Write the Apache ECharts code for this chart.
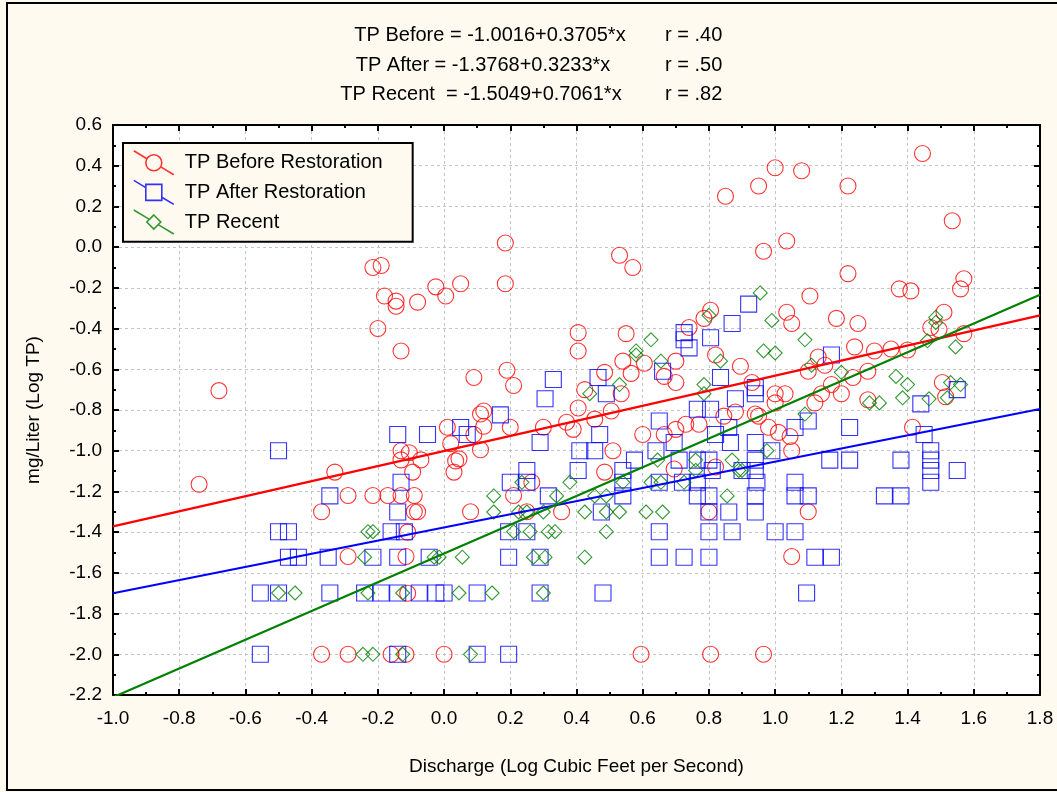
<!DOCTYPE html>
<html>
<head>
<meta charset="utf-8">
<script src="https://cdn.jsdelivr.net/npm/echarts@6/dist/echarts.min.js"></script>
<style>
html,body{margin:0;padding:0;background:#fffaf0;}
#chart{width:1057px;height:792px;}
</style>
</head>
<body>
<div id="chart"></div>
<script>
// ---- Data ----
var seriesNames = ['TP Before Restoration', 'TP After Restoration', 'TP Recent'];

var xTicks = { min: -1.0, max: 1.8, step: 0.2 };
var yTicks = { min: -2.2, max: 0.6, step: 0.2 };

var equations = [
  'TP Before = -1.0016+0.3705*x',
  'TP After = -1.3768+0.3233*x',
  'TP Recent  = -1.5049+0.7061*x'
];
var rValues = ['r = .40', 'r = .50', 'r = .82'];

var beforeLine = [[-1.0, -1.372], [1.8, -0.335]];
var afterLine = [[-1.0, -1.700], [1.8, -0.795]];
var recentLine = [[-1.0, -2.211], [1.8, -0.234]];

var beforePts = [
[1.0,0.39],[1.08,0.375],[0.95,0.30],[1.22,0.30],[1.445,0.46],[1.535,0.13],[0.965,-0.02],[1.035,0.03],[1.22,-0.13],[1.105,-0.24],[1.375,-0.205],[1.41,-0.215],[1.57,-0.155],[1.56,-0.205],[1.035,-0.32],[1.05,-0.375],[1.185,-0.35],[1.25,-0.375],[1.51,-0.32],[1.47,-0.395],[1.495,-0.405],[1.57,-0.425],[1.24,-0.49],[1.30,-0.51],[1.35,-0.50],[1.40,-0.505],[1.13,-0.54],[1.10,-0.61],[1.15,-0.58],[1.28,-0.61],[1.235,-0.64],[1.17,-0.675],[1.20,-0.72],[1.14,-0.72],[1.0,-0.72],[1.03,-0.72],[1.0,-0.765],[1.12,-0.765],[0.895,-0.585],[0.93,-0.665],[1.505,-0.665],[1.515,-0.735],
[-0.215,-0.10],[-0.19,-0.09],[-0.18,-0.24],[-0.145,-0.265],[-0.145,-0.29],[-0.08,-0.27],[-0.025,-0.195],[0.005,-0.24],[-0.20,-0.40],[-0.13,-0.51],[-0.68,-0.705],[0.05,-0.18],
[0.185,0.02],[0.185,-0.18],[0.53,-0.04],[0.57,-0.10],[0.85,0.25],[0.405,-0.42],[0.405,-0.51],[0.55,-0.425],[0.09,-0.64],[0.19,-0.605],[0.21,-0.68],[0.485,-0.615],[0.54,-0.56],[0.565,-0.62],[0.605,-0.57],[0.425,-0.70],[0.535,-0.72],[0.70,-0.56],[0.665,-0.635],[0.70,-0.665],[0.74,-0.395],[0.785,-0.35],[0.805,-0.31],[0.82,-0.53],[0.405,-0.79],[0.505,-0.805],[0.12,-0.805],
[-0.74,-1.165],[-0.33,-1.105],[0.01,-0.885],[0.02,-0.965],[-0.13,-1.0],[-0.105,-1.01],[-0.13,-1.045],[-0.07,-1.045],[-0.095,-1.105],[0.035,-1.05],[0.03,-1.105],[-0.29,-1.22],[-0.215,-1.22],[-0.17,-1.22],[-0.13,-1.22],[-0.09,-1.22],[-0.37,-1.30],[-0.09,-1.30],[-0.08,-1.30],[-0.11,-1.40],[-0.29,-1.52],[-0.115,-1.52],[-0.37,-2.0],[-0.29,-2.0],[-0.16,-2.0],[-0.115,-2.0],[0.0,-2.0],[-0.11,-1.70],
[0.595,-2.0],[0.805,-2.0],[0.965,-2.0],[0.11,-0.82],[0.12,-0.88],[0.09,-0.92],[0.11,-0.995],[0.045,-1.04],[0.20,-0.885],[0.30,-0.885],[0.37,-0.86],[0.39,-0.895],[0.455,-0.845],[0.51,-1.0],[0.485,-1.105],[0.265,-1.155],[0.21,-1.22],[0.25,-1.30],[0.355,-1.30],[0.08,-1.30],[0.60,-0.92],[0.665,-0.92],[0.70,-0.895],[0.73,-0.87],[0.77,-0.87],[0.845,-0.83],[0.88,-0.81],[0.94,-0.82],[0.695,-1.09],[0.82,-1.08],[0.80,-1.30],
[0.95,-0.83],[0.98,-0.885],[1.01,-0.91],[1.045,-0.93],[1.05,-1.0],[1.28,-0.75],[1.415,-0.885],[1.10,-1.30],[1.05,-1.52]
];

var afterPts = [
[-0.50,-1.0],[-0.14,-0.92],[-0.05,-0.92],[-0.13,-1.155],[-0.345,-1.222],[-0.14,-1.301],[-0.50,-1.398],[-0.47,-1.398],[-0.16,-1.398],[-0.12,-1.398],[-0.47,-1.523],[-0.44,-1.523],[-0.35,-1.523],[-0.215,-1.523],[-0.14,-1.523],[-0.045,-1.523],[-0.555,-1.699],[-0.50,-1.699],[-0.345,-1.699],[-0.24,-1.699],[-0.19,-1.699],[-0.14,-1.699],[-0.075,-1.699],[-0.025,-1.699],[0.05,-0.886],[-0.555,-2.0],[-0.14,-2.0],
[0.33,-0.65],[0.49,-0.72],[0.305,-0.745],[0.17,-0.824],[0.07,-0.92],[0.47,-0.92],[0.29,-0.96],[0.41,-1.0],[0.455,-1.0],[0.25,-1.097],[0.405,-1.097],[0.54,-1.097],[0.20,-1.155],[0.25,-1.155],[0.315,-1.222],[0.54,-1.155],[0.54,-1.222],[0.475,-1.301],[0.195,-1.398],[0.25,-1.398],[0.195,-1.523],[0.29,-1.523],[0.0,-1.699],[0.10,-1.699],[0.29,-1.699],[0.48,-1.699],[0.10,-2.0],[0.195,-2.0],
[0.65,-0.854],[0.695,-0.96],[0.64,-1.0],[0.575,-1.046],[0.71,-1.046],[0.765,-0.796],[0.805,-0.796],[0.86,-0.886],[0.82,-0.92],[0.865,-0.96],[0.88,-0.745],[0.94,-0.72],[0.94,-0.96],[0.94,-1.046],[0.765,-1.046],[0.80,-1.046],[0.81,-1.097],[0.65,-1.155],[0.72,-1.155],[0.765,-1.155],[0.765,-1.222],[0.80,-1.222],[0.94,-1.097],[0.94,-1.222],[0.94,-1.301],[0.80,-1.301],[0.86,-1.301],[0.65,-1.398],[0.80,-1.398],[0.87,-1.398],[0.65,-1.523],[0.725,-1.523],[0.80,-1.523],
[0.465,-0.64],[0.725,-0.42],[0.725,-0.455],[0.74,-0.495],[0.805,-0.445],[0.87,-0.375],[0.92,-0.28],[0.66,-0.61],[0.835,-0.64],[0.94,-0.69],
[1.17,-0.53],[1.44,-0.77],[1.55,-0.70],
[1.06,-0.886],[1.10,-0.854],[1.225,-0.886],[0.945,-1.155],[0.99,-1.0],[1.165,-1.046],[1.225,-1.046],[1.38,-1.046],[1.06,-1.155],[1.06,-1.222],[1.10,-1.222],[1.33,-1.222],[1.38,-1.222],[1.0,-1.398],[1.06,-1.398],[1.12,-1.523],[1.17,-1.523],[1.095,-1.699],[1.45,-0.92],[1.47,-1.0],[1.47,-1.046],[1.47,-1.097],[1.47,-1.155],[1.55,-1.097],[0.90,-1.097]
];

var recentPts = [
[-0.23,-1.398],[-0.215,-1.398],[-0.24,-1.523],[-0.03,-1.523],[-0.015,-1.523],[-0.50,-1.699],[-0.45,-1.699],[-0.23,-1.699],[-0.125,-1.699],[0.045,-1.699],[-0.245,-2.0],[-0.215,-2.0],[-0.125,-2.0],
[0.53,-0.675],[0.44,-0.72],[0.785,-0.675],[0.785,-0.72],[0.235,-1.155],[0.15,-1.222],[0.34,-1.222],[0.38,-1.155],[0.15,-1.301],[0.225,-1.301],[0.25,-1.301],[0.30,-1.301],[0.425,-1.301],[0.455,-1.222],[0.49,-1.222],[0.49,-1.301],[0.53,-1.301],[0.54,-1.155],[0.61,-1.301],[0.66,-1.301],[0.625,-1.155],[0.655,-1.155],[0.645,-1.046],[0.725,-1.155],[0.76,-1.046],[0.76,-1.097],[0.87,-1.046],[0.89,-1.097],[0.855,-1.222],[0.21,-1.398],[0.26,-1.398],[0.315,-1.398],[0.335,-1.398],[0.49,-1.398],[0.055,-1.523],[0.27,-1.523],[0.305,-1.523],[0.425,-1.523],[0.145,-1.699],[0.30,-1.699],[0.08,-2.0],
[0.625,-0.455],[0.58,-0.51],[0.58,-0.53],[0.655,-0.56],[0.80,-0.335],[0.835,-0.56],[0.955,-0.225],[0.965,-0.51],
[0.99,-0.36],[1.09,-0.455],[1.0,-0.52],[1.11,-0.58],[1.20,-0.615],[1.365,-0.635],[1.40,-0.675],[1.385,-0.74],[1.285,-0.765],[1.315,-0.765],[1.465,-0.745],[1.46,-0.46],[1.485,-0.345],[1.485,-0.37],[1.545,-0.49],[1.53,-0.665],[1.56,-0.675],[1.52,-0.74],
[1.09,-0.82],[0.975,-1.0],[0.90,-1.097]
];

// ---- Chart ----
var FONT = '"Liberation Sans", Arial, sans-serif';
var RED = '#ff0000', BLUE = '#0000ff', GREEN = '#008000';

function fmt(v) { if (Math.abs(v) < 1e-9) return '0.0'; return v.toFixed(1); }

var axisLineStyle = { color: '#000', width: 2 };
function makeX(pos, main) {
  return {
    type: 'value', position: pos, min: xTicks.min, max: xTicks.max, interval: xTicks.step,
    name: main ? 'Discharge (Log Cubic Feet per Second)' : '',
    nameLocation: 'middle', nameGap: 62,
    nameTextStyle: { fontFamily: FONT, fontSize: 19, color: '#000' },
    axisLine: { show: true, onZero: false, lineStyle: axisLineStyle },
    axisTick: { show: true, inside: true, length: 6, lineStyle: { color: '#000', width: 2 } },
    minorTick: { show: true, splitNumber: 2, length: 3, lineStyle: { color: '#000', width: 2 } },
    axisLabel: { show: main, formatter: fmt, fontFamily: FONT, fontSize: 19, color: '#000', margin: 14 },
    splitLine: { show: main, lineStyle: { color: '#c4c4c4', width: 1, type: [3, 3] } },
    minorSplitLine: { show: false }
  };
}
function makeY(pos, main) {
  return {
    type: 'value', position: pos, min: yTicks.min, max: yTicks.max, interval: yTicks.step,
    name: main ? 'mg/Liter (Log TP)' : '',
    nameLocation: 'middle', nameGap: 70,
    nameTextStyle: { fontFamily: FONT, fontSize: 19, color: '#000' },
    axisLine: { show: true, onZero: false, lineStyle: axisLineStyle },
    axisTick: { show: true, inside: true, length: 6, lineStyle: { color: '#000', width: 2 } },
    minorTick: { show: true, splitNumber: 2, length: 3, lineStyle: { color: '#000', width: 2 } },
    axisLabel: { show: main, formatter: fmt, fontFamily: FONT, fontSize: 19, color: '#000', margin: 11 },
    splitLine: { show: main, lineStyle: { color: '#c4c4c4', width: 1, type: [3, 3] } },
    minorSplitLine: { show: false }
  };
}

var iconCircle = 'path://M0,0L13.1,7.9M26.9,16.1L40,24M28,12A8,8,0,1,1,12,12A8,8,0,1,1,28,12Z';
var iconSquare = 'path://M0,0L12,7.2M28,16.8L40,24M12,4L28,4L28,20L12,20Z';
var iconDiamond = 'path://M0,0L15.6,9.4M24.4,14.6L40,24M20,5L27,12L20,19L13,12Z';

var chart = echarts.init(document.getElementById('chart'), null, { renderer: 'canvas' });

var graphics = [
  { type: 'rect', shape: { x: 7, y: 3, width: 1070, height: 787 }, style: { fill: 'none', stroke: '#000', lineWidth: 2 }, z: 100 }
];
var eqY = [35, 65, 94];
var eqCX = [490, 483, 481];
for (var i = 0; i < equations.length; i++) {
  graphics.push({ type: 'text', x: eqCX[i], y: eqY[i], style: { text: equations[i], fill: '#000', font: '20px ' + FONT, textAlign: 'center', textVerticalAlign: 'middle' } });
  graphics.push({ type: 'text', x: 665, y: eqY[i], style: { text: rValues[i], fill: '#000', font: '20px ' + FONT, textAlign: 'left', textVerticalAlign: 'middle' } });
}

var option = {
  backgroundColor: '#fffaf0',
  animation: false,
  grid: { left: 113, right: 17, top: 125, bottom: 97, show: true, backgroundColor: '#ffffff', borderWidth: 0, containLabel: false },
  xAxis: [makeX('bottom', true), makeX('top', false)],
  yAxis: [makeY('left', true), makeY('right', false)],
  legend: {
    show: true, orient: 'vertical', left: 123, top: 143,
    data: [
      { name: seriesNames[0], icon: iconCircle },
      { name: seriesNames[1], icon: iconSquare },
      { name: seriesNames[2], icon: iconDiamond }
    ],
    itemWidth: 40, itemHeight: 24, itemGap: 4,
    padding: [7, 30, 7, 10],
    backgroundColor: '#fffaf0', borderColor: '#000', borderWidth: 2,
    selectedMode: false,
    itemStyle: { borderWidth: 1.6 },
    textStyle: { fontFamily: FONT, fontSize: 20, color: '#000', padding: [0, 0, 0, 6] }
  },
  graphic: graphics,
  series: [
    { name: seriesNames[0], type: 'scatter', xAxisIndex: 0, yAxisIndex: 0, data: beforePts, symbol: 'circle', symbolSize: 16,
      itemStyle: { color: 'rgba(255,255,255,0)', borderColor: RED, borderWidth: 1.1 }, z: 2 },
    { name: seriesNames[1], type: 'scatter', xAxisIndex: 0, yAxisIndex: 0, data: afterPts, symbol: 'rect', symbolSize: 16,
      itemStyle: { color: 'rgba(255,255,255,0)', borderColor: BLUE, borderWidth: 1.1 }, z: 2 },
    { name: seriesNames[2], type: 'scatter', xAxisIndex: 0, yAxisIndex: 0, data: recentPts, symbol: 'diamond', symbolSize: 14,
      itemStyle: { color: 'rgba(255,255,255,0)', borderColor: GREEN, borderWidth: 1.1 }, z: 2 },
    { name: 'Before fit', type: 'line', data: beforeLine, showSymbol: false, symbol: 'none', lineStyle: { color: RED, width: 2.2 }, itemStyle: { color: RED }, z: 3, clip: true },
    { name: 'After fit', type: 'line', data: afterLine, showSymbol: false, symbol: 'none', lineStyle: { color: BLUE, width: 2.2 }, itemStyle: { color: BLUE }, z: 3, clip: true },
    { name: 'Recent fit', type: 'line', data: recentLine, showSymbol: false, symbol: 'none', lineStyle: { color: GREEN, width: 2.2 }, itemStyle: { color: GREEN }, z: 3, clip: true }
  ]
};
chart.setOption(option);
</script>
</body>
</html>
